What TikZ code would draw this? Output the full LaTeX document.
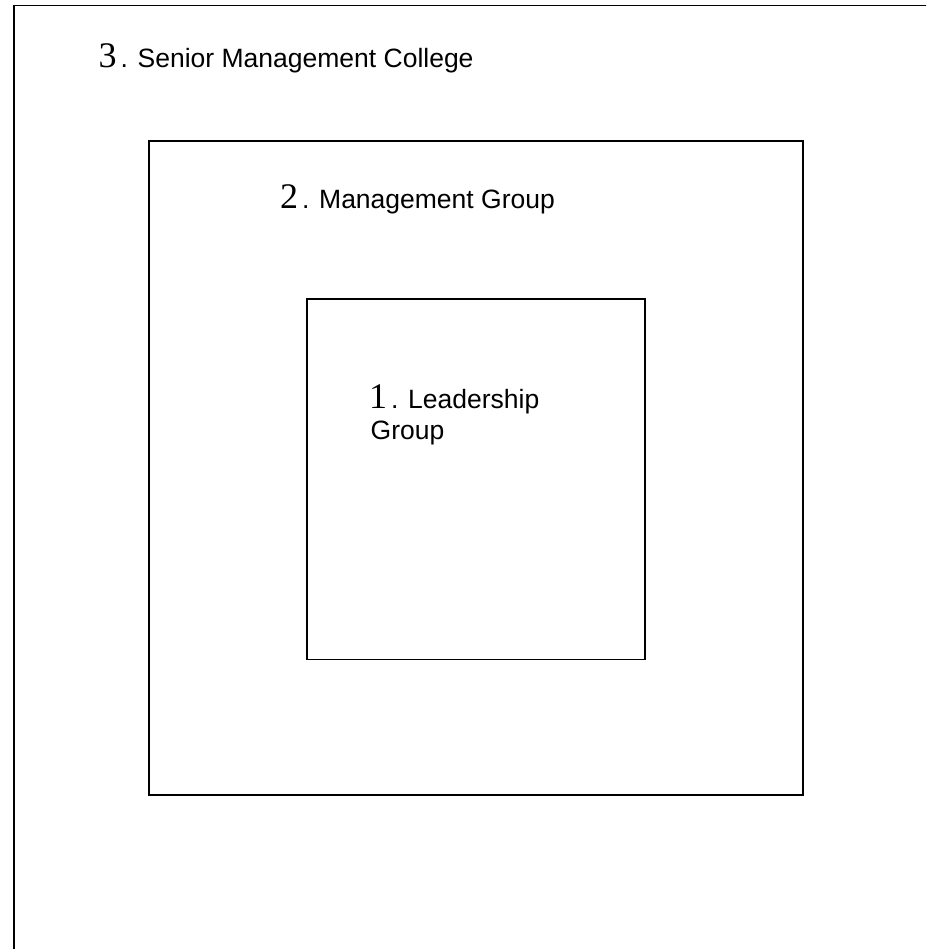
\documentclass[tikz,border=0pt]{standalone}
\usepackage{fontspec}
\setmainfont{Liberation Sans}
\newfontfamily\numfont{Liberation Serif}
\begin{document}
\begin{tikzpicture}[x=1pt,y=-1pt,
  frame/.style={draw=black,line width=1.3pt},
  label/.style={anchor=base west,inner sep=0pt,outer sep=0pt,
    font=\fontsize{26.5}{31}\selectfont},
  num/.style={}]
\newcommand\lvlnum[1]{{\numfont\fontsize{36}{36}\selectfont #1}\hspace{4pt}}
\clip (0,0) rectangle (926,949);
\fill[white] (0,0) rectangle (926,949);
% outer level: only its top and left sides fall on the page
\draw[frame] (14,5.5) rectangle (940,965);
% middle and inner levels
\draw[frame] (149,141) rectangle (803,795);
\draw[frame] (307,299) rectangle (645,659.5);
% level captions
\node[label] (college) at (98.5,68) {\lvlnum{3}. Senior Management College};
\node[label] (mgmt) at (280,209) {\lvlnum{2}. Management Group};
\node[label] (lead) at (369,408) {\lvlnum{1}. Leadership};
\node[label] (leadb) at (370.7,439) {Group};
\end{tikzpicture}
\end{document}
